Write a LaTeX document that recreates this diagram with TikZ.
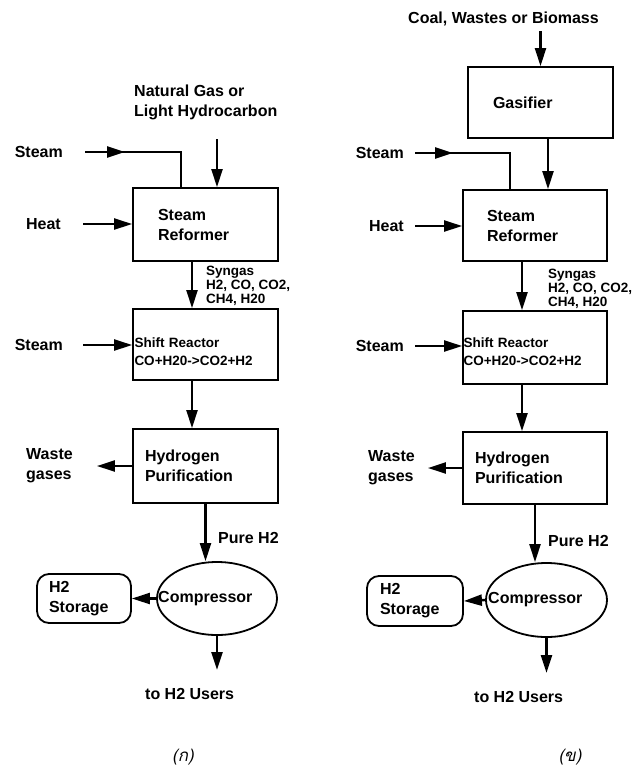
\documentclass[tikz,border=0pt]{standalone}
\usepackage{fontspec}
\setmainfont{Liberation Sans}
\newfontfamily\thaifont[Script=Thai,FakeSlant=0.2]{Loma}
\usetikzlibrary{arrows.meta,shapes.geometric,decorations.markings}

\begin{document}
\begin{tikzpicture}[x=1pt, y=-1pt, every node/.style={inner sep=0pt, font=\bfseries\fontsize{16}{20}\selectfont}, box/.style={draw, line width=1.8pt, align=left, text width=#1}, store/.style={draw, line width=1.8pt, rounded corners=12pt, align=left, text width=#1}, comp/.style={draw, ellipse, line width=1.8pt}, smallfont/.style={font=\bfseries\fontsize{13.5}{14}\selectfont}, shiftfont/.style={font=\bfseries\fontsize{13.5}{18}\selectfont}, arrow/.style={-{Triangle[length=18pt,width=11pt]}, line width=2.4pt}, pipe/.style={line width=2.4pt}, midarrow/.style={postaction={decorate}, decoration={markings, mark=at position #1 with {\arrow{Triangle[length=18pt,width=11pt]}}}}]
      \useasboundingbox (0,0) rectangle (634,769);
      % left process
      \node[anchor=north west, align=left] (feedA) at (134,85) {Natural Gas or\\Light Hydrocarbon};
      \node[anchor=east] (steamA) at (63,152) {Steam};
      \node[anchor=east] (heatA) at (61,224) {Heat};
      \node[box=95pt, inner xsep=25pt, minimum height=73pt] (reformerA) at (205.5,224.5) {Steam\\Reformer};
      \node[smallfont, anchor=north west, align=left] (syngasA) at (206,266) {Syngas\\H2, CO, CO2,\\CH4, H20};
      \node[anchor=east] (steamshiftA) at (63,345) {Steam};
      \node[box=142pt, shiftfont, inner xsep=1.5pt, minimum height=71pt, text height=24pt] (shiftA) at (205.5,344.5) {Shift Reactor\\CO+H20->CO2+H2};
      \node[anchor=north west, align=left] (wasteA) at (26,448) {Waste\\gases};
      \node[box=121pt, inner xsep=12pt, minimum height=74pt] (purifA) at (205.5,466) {Hydrogen\\Purification};
      \node[anchor=west] (pureA) at (218,537.5) {Pure H2};
      \node[comp, minimum width=120pt, minimum height=73pt] (compA) at (217,598.5) {};
      \node[anchor=west] (comptextA) at (158,599) {Compressor};
      \node[store=70pt, inner xsep=12pt, minimum height=49pt] (storeA) at (84,598.5) {H2\\Storage};
      \node[anchor=north west] (usersA) at (145,688) {to H2 Users};
      \node[font=\thaifont\fontsize{17}{20}\selectfont] (captionA) at (183,757) {(ก)};
      \coordinate (ngInA) at ([xshift=11.5pt]reformerA.north);
      \coordinate (steamInA) at ([xshift=49pt]reformerA.north west);
      \coordinate (synOutA) at ([xshift=-13.5pt]reformerA.south);
      \coordinate (shiftOutA) at ([xshift=-13.5pt]shiftA.south);
      \draw[arrow, shorten <=19pt] (feedA.south -| ngInA) -- (ngInA);
      \draw[pipe, midarrow=40pt] ([xshift=22pt]steamA.east) -| (steamInA);
      \draw[arrow] ([xshift=22pt]heatA.east) -- (heatA.east -| reformerA.west);
      \draw[arrow] (synOutA) -- (synOutA |- shiftA.north);
      \draw[arrow] ([xshift=20pt]steamshiftA.east) -- (steamshiftA.east -| shiftA.west);
      \draw[arrow] (shiftOutA) -- (shiftOutA |- purifA.north);
      \draw[arrow, shorten >=24pt] (purifA.west) -- (purifA.west -| wasteA.east);
      \draw[arrow] (purifA.south) -- (purifA.south |- compA.north);
      \draw[arrow] (compA.west) -- (storeA.east);
      \draw[arrow, shorten >=18pt] (compA.south) -- (compA.south |- usersA.north);
      % right process
      \node[anchor=north west] (feedB) at (408,12) {Coal, Wastes or Biomass};
      \node[box=95pt, inner xsep=25pt, minimum height=71pt] (gasB) at (540.5,102.5) {Gasifier};
      \node[anchor=east] (steamB) at (404,153) {Steam};
      \node[anchor=east] (heatB) at (404,226) {Heat};
      \node[box=96pt, inner xsep=24pt, minimum height=71pt] (reformerB) at (535,225.5) {Steam\\Reformer};
      \node[smallfont, anchor=north west, align=left] (syngasB) at (548,269) {Syngas\\H2, CO, CO2,\\CH4, H20};
      \node[anchor=east] (steamshiftB) at (404,346) {Steam};
      \node[box=143pt, shiftfont, inner xsep=0.5pt, minimum height=73pt, text height=19pt] (shiftB) at (535,347.5) {Shift Reactor\\CO+H20->CO2+H2};
      \node[anchor=north west, align=left] (wasteB) at (368,450) {Waste\\gases};
      \node[box=120pt, inner xsep=12pt, minimum height=72pt] (purifB) at (535,468) {Hydrogen\\Purification};
      \node[anchor=west] (pureB) at (548,540.5) {Pure H2};
      \node[comp, minimum width=121pt, minimum height=74pt] (compB) at (546.5,600) {};
      \node[anchor=west] (comptextB) at (488,600) {Compressor};
      \node[store=70pt, inner xsep=13pt, minimum height=50pt] (storeB) at (415,601) {H2\\Storage};
      \node[anchor=north west] (usersB) at (474,691) {to H2 Users};
      \node[font=\thaifont\fontsize{17}{20}\selectfont] (captionB) at (570,757) {(ข)};
      \coordinate (gasOutB) at ([xshift=7.5pt]gasB.south);
      \coordinate (steamInB) at ([xshift=48pt]reformerB.north west);
      \coordinate (synOutB) at ([xshift=-13pt]reformerB.south);
      \coordinate (shiftOutB) at ([xshift=-13pt]shiftB.south);
      \draw[arrow, shorten <=5pt] (feedB.south -| gasB.north) -- (gasB.north);
      \draw[arrow] (gasOutB) -- (gasOutB |- reformerB.north);
      \draw[pipe, midarrow=38pt] ([xshift=11pt]steamB.east) -| (steamInB);
      \draw[arrow] ([xshift=11pt]heatB.east) -- (heatB.east -| reformerB.west);
      \draw[arrow] (synOutB) -- (synOutB |- shiftB.north);
      \draw[arrow] ([xshift=11pt]steamshiftB.east) -- (steamshiftB.east -| shiftB.west);
      \draw[arrow] (shiftOutB) -- (shiftOutB |- purifB.north);
      \draw[arrow, shorten >=13pt] (purifB.west) -- (purifB.west -| wasteB.east);
      \draw[arrow] (purifB.south) -- (purifB.south |- compB.north);
      \draw[arrow] (compB.west) -- (storeB.east);
      \draw[arrow, shorten >=18pt] (compB.south) -- (compB.south |- usersB.north);
    \end{tikzpicture}
\end{document}
